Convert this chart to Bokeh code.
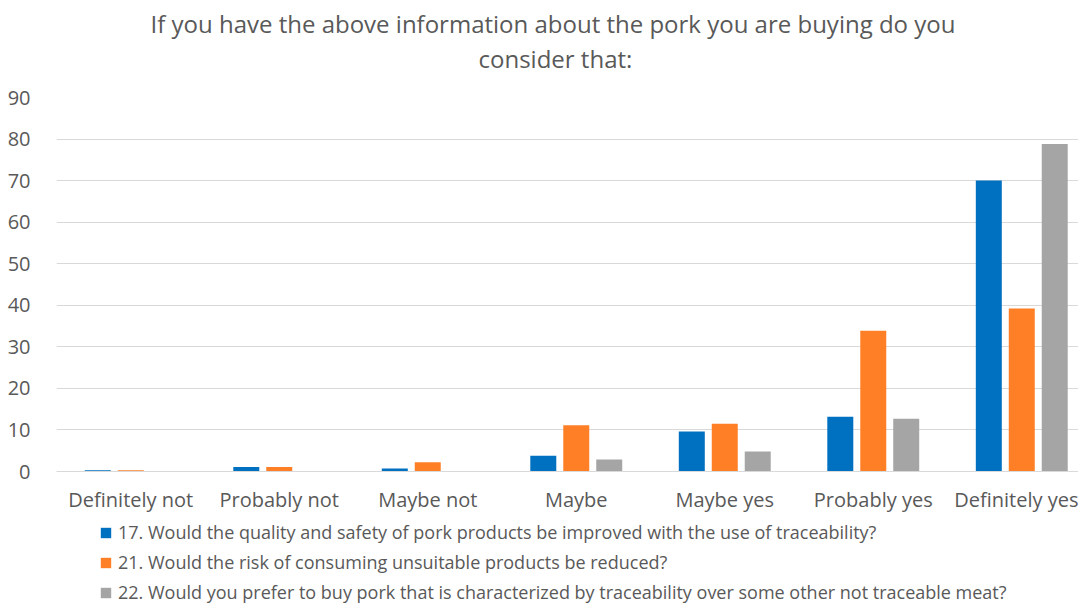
import numpy as np
from bokeh.plotting import figure
from bokeh.layouts import column
from bokeh.models import (ColumnDataSource, Range1d, FixedTicker, Legend, LegendItem, Title)
from bokeh.transform import dodge
from bokeh.embed import file_html
from bokeh.resources import INLINE

categories = ["Definitely not", "Probably not", "Maybe not", "Maybe", "Maybe yes", "Probably yes", "Definitely yes"]
q17 = [0.3, 1.1, 0.7, 3.8, 9.6, 13.2, 70.0]
q21 = [0.3, 1.1, 2.2, 11.1, 11.5, 33.9, 39.2]
q22 = [0.0, 0.0, 0.0, 2.9, 4.8, 12.7, 78.8]
series_names = [
    "17. Would the quality and safety of pork products be improved with the use of traceability?",
    "21. Would the risk of consuming unsuitable products be reduced?",
    "22. Would you prefer to buy pork that is characterized by traceability over some other not traceable meat?",
]
y_ticks = [0, 10, 20, 30, 40, 50, 60, 70, 80, 90]

colors = ["#0070C0", "#FF7F27", "#A5A5A5"]
FONT = "Open Sans"
TXT = "#595959"

src = ColumnDataSource(dict(x=list(range(len(categories))), q17=q17, q21=q21, q22=q22))
cols = ["q17", "q21", "q22"]
pitch = 0.222
bw = 0.175

p = figure(width=1078, height=520, output_backend="svg", toolbar_location=None,
           x_range=Range1d(-0.5, 6.382), y_range=Range1d(0, 90),
           min_border_left=56, min_border_right=0, min_border_top=97, min_border_bottom=49)
p.outline_line_color = None

for i, (col, c) in enumerate(zip(cols, colors)):
    p.vbar(x=dodge("x", (i - 1) * pitch), top=col, width=bw, source=src,
           fill_color=c, line_color=None)

# spacer panel between title and plot frame
p.add_layout(Title(text=" ", text_font_size="1px", standoff=20), "above")
p.add_layout(Title(text="consider that:", text_font_size="24px", text_font=FONT,
                   text_color=TXT, text_font_style="normal", align="left", offset=422,
                   standoff=0), "above")
p.add_layout(Title(text="If you have the above information about the pork you are buying  do you",
                   text_font_size="24px", text_font=FONT, text_color=TXT,
                   text_font_style="normal", align="left", offset=94, standoff=0), "above")

p.xaxis.ticker = FixedTicker(ticks=list(range(len(categories))))
p.xaxis.major_label_overrides = {i: c for i, c in enumerate(categories)}
p.xaxis.major_label_text_font = FONT
p.xaxis.major_label_text_font_size = "20px"
p.xaxis.major_label_text_color = TXT
p.xaxis.major_tick_line_color = None
p.xaxis.minor_tick_line_color = None
p.xaxis.axis_line_color = "#D9D9D9"
p.xaxis.major_label_standoff = 8
p.xgrid.grid_line_color = None

p.yaxis.ticker = FixedTicker(ticks=y_ticks)
p.yaxis.major_label_text_font = FONT
p.yaxis.major_label_text_font_size = "20px"
p.yaxis.major_label_text_color = TXT
p.yaxis.major_tick_line_color = None
p.yaxis.minor_tick_line_color = None
p.yaxis.axis_line_color = None
p.yaxis.major_label_standoff = 20
p.ygrid.grid_line_color = "#D9D9D9"

# legend panel below the chart (key glyphs come from the same data, kept out of view)
lg = figure(width=1078, height=84, output_backend="svg", toolbar_location=None,
            x_axis_type=None, y_axis_type=None,
            x_range=Range1d(100, 101), y_range=Range1d(1000, 1001),
            min_border_left=56, min_border_right=0, min_border_top=0, min_border_bottom=0)
lg.outline_line_color = None
lg.grid.visible = False
key_renderers = [lg.vbar(x="x", top=col, width=bw, source=src, fill_color=c, line_color=None)
                 for col, c in zip(cols, colors)]
legend = Legend(items=[LegendItem(label=n, renderers=[r]) for n, r in zip(series_names, key_renderers)],
                orientation="vertical", location=(43, 0),
                label_text_font=FONT, label_text_font_size="18px", label_text_color=TXT,
                glyph_width=13, glyph_height=13, label_height=20, spacing=6,
                padding=0, margin=0, border_line_color=None, background_fill_alpha=0,
                label_standoff=6)
lg.add_layout(legend, "center")

layout = column(p, lg, spacing=0)
open("out.html", "w").write(file_html(layout, INLINE))
